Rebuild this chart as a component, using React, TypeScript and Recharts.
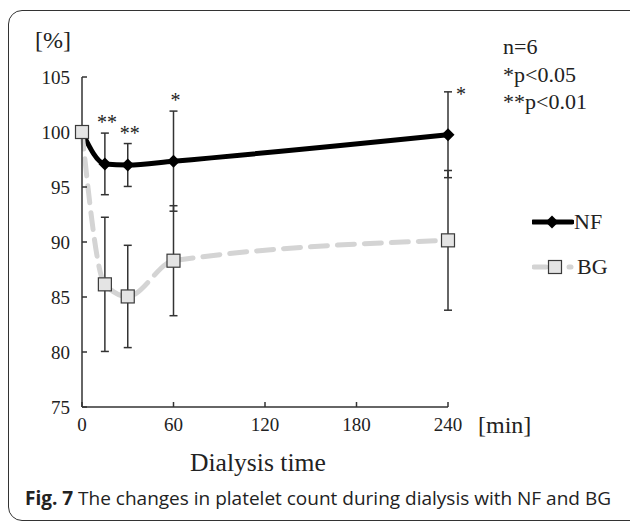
import React from "react";
import {
  LineChart,
  Line,
  XAxis,
  YAxis,
  ErrorBar,
  ReferenceDot,
} from "recharts";

// dialysis time [min]
const times = [0, 15, 30, 60, 240];
// platelet count relative to start [%], mean and SD
const nfValues = [100, 97.1, 97.0, 97.35, 99.75];
const nfErrors = [0, 2.8, 1.95, 4.55, 3.9];
const bgValues = [100, 86.15, 85.05, 88.3, 90.15];
const bgErrors = [0, 6.1, 4.65, 5.0, 6.35];
const nfSignificance = ["", "**", "**", "*", "*"];

const xTicks = [0, 60, 120, 180, 240];
const yTicks = [75, 80, 85, 90, 95, 100, 105];
const notes = ["n=6", "*p<0.05", "**p<0.01"];

const data = times.map((t, i) => ({
  time: t,
  nf: nfValues[i],
  nfErr: nfErrors[i],
  bg: bgValues[i],
  bgErr: bgErrors[i],
}));

const serif = "'Liberation Serif', 'Times New Roman', serif";
const axisColor = "#333";
const bgGray = "#d4d4d4";

function Diamond(props: any) {
  const { cx, cy } = props;
  if (cx == null || cy == null) return null;
  const r = 6.5;
  return (
    <polygon
      points={`${cx},${cy - r} ${cx + r},${cy} ${cx},${cy + r} ${cx - r},${cy}`}
      fill="#000"
    />
  );
}

function Square(props: any) {
  const { cx, cy } = props;
  if (cx == null || cy == null) return null;
  const s = 13;
  return (
    <rect
      x={cx - s / 2}
      y={cy - s / 2}
      width={s}
      height={s}
      fill="#e4e4e4"
      stroke="#3a3a3a"
      strokeWidth={1.2}
    />
  );
}

function sigLabel(mark: string, last: boolean) {
  return (props: any) => {
    const vb = props.viewBox || {};
    const x = (vb.x ?? 0) + (vb.width ?? 0) / 2;
    const y = (vb.y ?? 0) + (vb.height ?? 0) / 2;
    return (
      <text
        x={last ? x + 8 : x + 2}
        y={last ? y + 9 : y - 4}
        textAnchor={last ? "start" : "middle"}
        fontFamily={serif}
        fontSize={20}
        fill="#222"
      >
        {mark}
      </text>
    );
  };
}

function LegendBox() {
  return (
    <div style={{ fontFamily: serif, fontSize: 22, color: "#222" }}>
      <div style={{ display: "flex", alignItems: "center", height: 24 }}>
        <svg width={42} height={20}>
          <line x1={1} y1={10} x2={40} y2={10} stroke="#000" strokeWidth={5} strokeLinecap="round" />
          <polygon points="20,3.5 26.5,10 20,16.5 13.5,10" fill="#000" />
        </svg>
        <span style={{ lineHeight: "24px" }}>NF</span>
      </div>
      <div style={{ display: "flex", alignItems: "center", height: 24, marginTop: 21 }}>
        <svg width={45} height={20}>
          <line x1={2} y1={10} x2={14} y2={10} stroke={bgGray} strokeWidth={5} strokeLinecap="round" />
          <rect x={16.5} y={3.5} width={13} height={13} fill="#e4e4e4" stroke="#3a3a3a" strokeWidth={1.2} />
          <line x1={37} y1={10} x2={39} y2={10} stroke={bgGray} strokeWidth={5} strokeLinecap="round" />
        </svg>
        <span style={{ lineHeight: "24px" }}>BG</span>
      </div>
    </div>
  );
}

export default function App() {
  return (
    <div
      style={{
        position: "absolute",
        left: 0,
        top: 0,
        width: 630,
        height: 523,
        background: "#fff",
        overflow: "hidden",
      }}
    >
      <div
        style={{
          position: "absolute",
          left: 8,
          top: 10,
          width: 640,
          height: 511,
          boxSizing: "border-box",
          border: "1.5px solid #333",
          borderRadius: 14,
        }}
      />
      <div style={{ position: "absolute", left: 0, top: 0 }}>
        <LineChart
          width={630}
          height={523}
          data={data}
          margin={{ top: 77, right: 182, bottom: 86, left: 22 }}
        >
          <XAxis
            dataKey="time"
            type="number"
            domain={[0, 240]}
            ticks={xTicks}
            height={30}
            tickSize={-5}
            tickMargin={16}
            axisLine={{ stroke: axisColor, strokeWidth: 1.5 }}
            tickLine={{ stroke: axisColor, strokeWidth: 1.5 }}
            tick={{ fill: "#222", fontSize: 19, fontFamily: serif }}
          />
          <YAxis
            type="number"
            domain={[75, 105]}
            ticks={yTicks}
            width={60}
            tickSize={-5}
            tickMargin={17}
            axisLine={{ stroke: axisColor, strokeWidth: 1.5 }}
            tickLine={{ stroke: axisColor, strokeWidth: 1.5 }}
            tick={{ fill: "#222", fontSize: 19, fontFamily: serif }}
          />
          <Line
            dataKey="nf"
            name="NF"
            type="monotone"
            stroke="#000"
            strokeWidth={5}
            dot={(p: any) => <Diamond key={`nf-${p.index}`} {...p} />}
            activeDot={false}
            isAnimationActive={false}
          >
            <ErrorBar dataKey="nfErr" direction="y" width={4} stroke="#333" strokeWidth={1.5} />
          </Line>
          <Line
            dataKey="bg"
            name="BG"
            type="monotone"
            stroke={bgGray}
            strokeWidth={5}
            strokeDasharray="17 10"
            strokeLinecap="round"
            dot={(p: any) => <Square key={`bg-${p.index}`} {...p} />}
            activeDot={false}
            isAnimationActive={false}
          >
            <ErrorBar dataKey="bgErr" direction="y" width={4} stroke="#333" strokeWidth={1.5} />
          </Line>
          {times.map((t, i) =>
            nfSignificance[i] ? (
              <ReferenceDot
                key={`sig-${t}`}
                x={t}
                y={nfValues[i] + nfErrors[i]}
                r={0}
                fill="none"
                stroke="none"
                label={sigLabel(nfSignificance[i], i === times.length - 1)}
              />
            ) : null
          )}
        </LineChart>
      </div>

      <div style={{ position: "absolute", left: 532, top: 210 }}>
        <LegendBox />
      </div>
      <div style={{ position: "absolute", left: 35, top: 26, fontFamily: serif, fontSize: 24, lineHeight: "28px", color: "#222" }}>
        [%]
      </div>
      <div style={{ position: "absolute", left: 503, top: 33, fontFamily: serif, fontSize: 22, lineHeight: "27.5px", color: "#222" }}>
        {notes.map((n) => (
          <div key={n}>{n}</div>
        ))}
      </div>
      <div style={{ position: "absolute", left: 478, top: 411, fontFamily: serif, fontSize: 24, lineHeight: "28px", color: "#222" }}>
        [min]
      </div>
      <div style={{ position: "absolute", left: 190, top: 449, fontFamily: serif, fontSize: 25.6, lineHeight: "28px", color: "#222" }}>
        Dialysis time
      </div>
      <div
        style={{
          position: "absolute",
          left: 25,
          top: 485,
          fontFamily: "'Open Sans', 'Noto Sans', sans-serif",
          fontSize: 19,
          lineHeight: "26px",
          color: "#222",
          whiteSpace: "nowrap",
        }}
      >
        <b>Fig. 7</b> The changes in platelet count during dialysis with NF and BG
      </div>
    </div>
  );
}
